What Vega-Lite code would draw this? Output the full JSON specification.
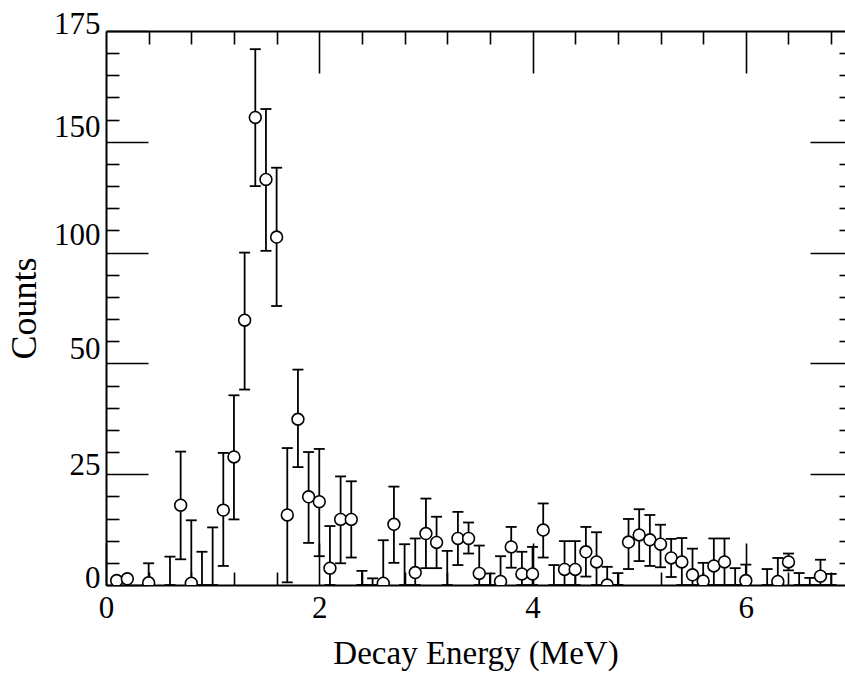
{
  "$schema": "https://vega.github.io/schema/vega-lite/v6.json",
  "width": 739,
  "height": 554,
  "autosize": {"type": "none"},
  "padding": {"left": 106, "top": 31, "right": 0, "bottom": 91},
  "background": "white",
  "config": {
    "view": {"stroke": null},
    "axis": {
      "grid": false,
      "domainColor": "black",
      "domainWidth": 2,
      "tickColor": "black",
      "tickWidth": 1.6,
      "labelColor": "black",
      "titleColor": "black",
      "labelFont": "Liberation Serif",
      "titleFont": "Liberation Serif",
      "titleFontWeight": "normal",
      "labelFontSize": 31,
      "titleFontSize": 33,
      "labelFlush": false,
      "labelOverlap": false
    }
  },
  "data": {
    "values": [
      {"energy": 0.1, "counts": 1.0, "lo": null, "hi": null},
      {"energy": 0.2, "counts": 1.4, "lo": null, "hi": null},
      {"energy": 0.4, "counts": 0.5, "lo": 0, "hi": 4.9},
      {"energy": 0.6, "counts": null, "lo": 0, "hi": 6.4},
      {"energy": 0.7, "counts": 18.0, "lo": 5.8, "hi": 30.1},
      {"energy": 0.8, "counts": 0.4, "lo": 0, "hi": 14.6},
      {"energy": 0.9, "counts": null, "lo": 0, "hi": 7.5},
      {"energy": 1.0, "counts": null, "lo": 0, "hi": 13.0},
      {"energy": 1.1, "counts": 16.9, "lo": 4.3, "hi": 29.8},
      {"energy": 1.2, "counts": 28.9, "lo": 14.8, "hi": 42.8},
      {"energy": 1.3, "counts": 69.5, "lo": 44.1, "hi": 100},
      {"energy": 1.4, "counts": 155.5, "lo": 130, "hi": 170.9},
      {"energy": 1.5, "counts": 133, "lo": 100.8, "hi": 157.4},
      {"energy": 1.6, "counts": 107, "lo": 75.9, "hi": 138.3},
      {"energy": 1.7, "counts": 15.8, "lo": 0.6, "hi": 30.9},
      {"energy": 1.8, "counts": 37.4, "lo": 26.6, "hi": 48.6},
      {"energy": 1.9, "counts": 19.9, "lo": 9.5, "hi": 30.0},
      {"energy": 2.0, "counts": 18.8, "lo": 6.5, "hi": 30.7},
      {"energy": 2.1, "counts": 3.8, "lo": 0, "hi": 13.3},
      {"energy": 2.2, "counts": 14.8, "lo": 4.9, "hi": 24.5},
      {"energy": 2.3, "counts": 14.8, "lo": 6.2, "hi": 23.4},
      {"energy": 2.4, "counts": null, "lo": 0, "hi": 3.2},
      {"energy": 2.5, "counts": null, "lo": 0, "hi": 1.5},
      {"energy": 2.6, "counts": 0.4, "lo": 0, "hi": 10.1},
      {"energy": 2.7, "counts": 13.7, "lo": 5.0, "hi": 22.2},
      {"energy": 2.8, "counts": null, "lo": 0, "hi": 9.2},
      {"energy": 2.9, "counts": 2.8, "lo": 0, "hi": 10.5},
      {"energy": 3.0, "counts": 11.6, "lo": 3.8, "hi": 19.5},
      {"energy": 3.1, "counts": 9.6, "lo": 3.8, "hi": 15.4},
      {"energy": 3.2, "counts": null, "lo": 0, "hi": 7.7},
      {"energy": 3.3, "counts": 10.5, "lo": 4.5, "hi": 16.5},
      {"energy": 3.4, "counts": 10.5, "lo": 7.1, "hi": 14.1},
      {"energy": 3.5, "counts": 2.6, "lo": 0, "hi": 8.9},
      {"energy": 3.6, "counts": null, "lo": 0, "hi": 2.6},
      {"energy": 3.7, "counts": 0.8, "lo": 0, "hi": 6.5},
      {"energy": 3.8, "counts": 8.6, "lo": 3.9, "hi": 13.1},
      {"energy": 3.9, "counts": 2.5, "lo": 0, "hi": 7.5},
      {"energy": 4.0, "counts": 2.5, "lo": 0, "hi": 8.6},
      {"energy": 4.1, "counts": 12.4, "lo": 6.2, "hi": 18.4},
      {"energy": 4.2, "counts": null, "lo": 0, "hi": 4.5},
      {"energy": 4.3, "counts": 3.5, "lo": 0, "hi": 9.9},
      {"energy": 4.4, "counts": 3.5, "lo": 0, "hi": 9.9},
      {"energy": 4.5, "counts": 7.5, "lo": 1.9, "hi": 13.1},
      {"energy": 4.6, "counts": 5.2, "lo": 0, "hi": 11.9},
      {"energy": 4.7, "counts": 0, "lo": 0, "hi": 4.1},
      {"energy": 4.8, "counts": null, "lo": 0, "hi": 2.7},
      {"energy": 4.9, "counts": 9.7, "lo": 3.6, "hi": 14.9},
      {"energy": 5.0, "counts": 11.3, "lo": 5.4, "hi": 17.1},
      {"energy": 5.1, "counts": 10.2, "lo": 4.3, "hi": 15.8},
      {"energy": 5.2, "counts": 9.2, "lo": 4.0, "hi": 13.6},
      {"energy": 5.3, "counts": 6.1, "lo": 1.8, "hi": 10.4},
      {"energy": 5.4, "counts": 5.2, "lo": 0, "hi": 10.6},
      {"energy": 5.5, "counts": 2.3, "lo": 0, "hi": 8.2},
      {"energy": 5.6, "counts": 0.9, "lo": 0, "hi": 5.0},
      {"energy": 5.7, "counts": 4.3, "lo": 0, "hi": 10.5},
      {"energy": 5.8, "counts": 5.2, "lo": 0, "hi": 10.5},
      {"energy": 5.9, "counts": null, "lo": 0, "hi": 3.8},
      {"energy": 6.0, "counts": 1.0, "lo": 0, "hi": 4.6},
      {"energy": 6.2, "counts": null, "lo": 0, "hi": 3.6},
      {"energy": 6.3, "counts": 0.8, "lo": 0, "hi": 6.1},
      {"energy": 6.4, "counts": 5.2, "lo": 3.3, "hi": 7.1},
      {"energy": 6.5, "counts": null, "lo": 0, "hi": 2.7},
      {"energy": 6.6, "counts": null, "lo": 0, "hi": 1.6},
      {"energy": 6.7, "counts": 2.0, "lo": 0, "hi": 5.7},
      {"energy": 6.8, "counts": null, "lo": 0, "hi": 2.5}
    ]
  },
  "layer": [
    {
      "transform": [{"filter": "datum.hi != null"}],
      "mark": {"type": "rule", "color": "black", "strokeWidth": 1.8, "clip": true},
      "encoding": {
        "x": {
          "field": "energy", "type": "quantitative",
          "scale": {"domain": [0, 6.93], "nice": false, "zero": false},
          "axis": {
            "orient": "bottom", "values": [0, 2, 4, 6], "format": "d",
            "tickSize": -42, "labelPadding": 50,
            "title": "Decay Energy (MeV)", "titlePadding": 14, "titleFontSize": 33
          }
        },
        "y": {
          "field": "lo", "type": "quantitative",
          "scale": {"type": "linear", "domain": [0, 25, 50, 100, 150, 175], "range": [554, 443.2, 332.4, 221.6, 110.8, 0], "nice": false, "zero": false},
          "axis": {
            "orient": "left", "values": [0, 25, 50, 100, 150, 175], "format": "d",
            "tickSize": -42, "labelPadding": 48, "labelBaseline": "middle",
            "labelOffset": {
              "condition": [
                {"test": "datum.value == 100", "value": -17},
                {"test": "datum.value == 50 || datum.value == 150", "value": -14},
                {"test": "datum.value == 25", "value": -9}
              ],
              "value": -7
            },
            "title": "Counts", "titleFontSize": 36, "titlePadding": 10
          }
        },
        "y2": {"field": "hi"}
      }
    },
    {
      "transform": [{"filter": "datum.hi != null"}],
      "mark": {"type": "tick", "orient": "horizontal", "size": 11, "thickness": 1.8, "color": "black", "opacity": 1},
      "encoding": {
        "x": {
          "field": "energy", "type": "quantitative",
          "scale": {"domain": [0, 6.93], "nice": false, "zero": false},
          "axis": {
            "orient": "bottom", "values": [0.4, 0.8, 1.2, 1.6, 2.4, 2.8, 3.2, 3.6, 4.4, 4.8, 5.2, 5.6, 6.4, 6.8],
            "tickSize": -13, "labels": false, "domain": false, "title": null
          }
        },
        "y": {
          "field": "hi", "type": "quantitative",
          "scale": {"type": "linear", "domain": [0, 25, 50, 100, 150, 175], "range": [554, 443.2, 332.4, 221.6, 110.8, 0], "nice": false, "zero": false},
          "axis": {
            "orient": "left", "values": [5, 10, 15, 20, 30, 35, 40, 45, 60, 70, 80, 90, 110, 120, 130, 140, 155, 160, 165, 170],
            "tickSize": -13, "labels": false, "domain": false, "title": null
          }
        }
      }
    },
    {
      "transform": [{"filter": "datum.hi != null"}],
      "mark": {"type": "tick", "orient": "horizontal", "size": 11, "thickness": 1.8, "color": "black", "opacity": 1},
      "encoding": {
        "x": {
          "field": "energy", "type": "quantitative",
          "scale": {"domain": [0, 6.93], "nice": false, "zero": false},
          "axis": {
            "orient": "top", "values": [2, 4, 6],
            "tickSize": -42, "labels": false, "domain": true, "title": null
          }
        },
        "y": {
          "field": "lo", "type": "quantitative",
          "scale": {"type": "linear", "domain": [0, 25, 50, 100, 150, 175], "range": [554, 443.2, 332.4, 221.6, 110.8, 0], "nice": false, "zero": false},
          "axis": {
            "orient": "right", "values": [25, 50, 100, 150], "offset": 7,
            "tickSize": -42, "labels": false, "domain": false, "title": null
          }
        }
      }
    },
    {
      "transform": [{"filter": "datum.counts != null"}],
      "mark": {"type": "point", "shape": "circle", "size": 140, "filled": true, "fill": "white", "stroke": "black", "strokeWidth": 1.6, "opacity": 1, "clip": true},
      "encoding": {
        "x": {
          "field": "energy", "type": "quantitative",
          "scale": {"domain": [0, 6.93], "nice": false, "zero": false},
          "axis": {
            "orient": "top", "values": [0.4, 0.8, 1.2, 1.6, 2.4, 2.8, 3.2, 3.6, 4.4, 4.8, 5.2, 5.6, 6.4, 6.8],
            "tickSize": -13, "labels": false, "domain": false, "title": null
          }
        },
        "y": {
          "field": "counts", "type": "quantitative",
          "scale": {"type": "linear", "domain": [0, 25, 50, 100, 150, 175], "range": [554, 443.2, 332.4, 221.6, 110.8, 0], "nice": false, "zero": false},
          "axis": {
            "orient": "right", "values": [5, 10, 15, 20, 30, 35, 40, 45, 60, 70, 80, 90, 110, 120, 130, 140, 155, 160, 165, 170], "offset": 7,
            "tickSize": -13, "labels": false, "domain": false, "title": null
          }
        }
      }
    }
  ],
  "resolve": {"axis": {"x": "independent", "y": "independent"}}
}
